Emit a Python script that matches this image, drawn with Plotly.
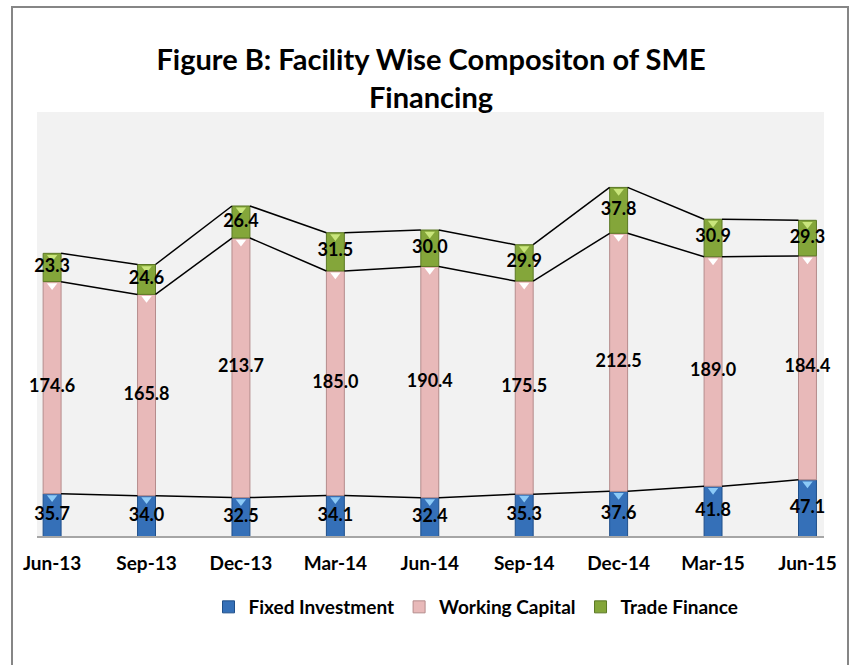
import plotly.graph_objects as go

categories = ["Jun-13", "Sep-13", "Dec-13", "Mar-14", "Jun-14", "Sep-14", "Dec-14", "Mar-15", "Jun-15"]
fixed_investment = [35.7, 34.0, 32.5, 34.1, 32.4, 35.3, 37.6, 41.8, 47.1]
working_capital = [174.6, 165.8, 213.7, 185.0, 190.4, 175.5, 212.5, 189.0, 184.4]
trade_finance = [23.3, 24.6, 26.4, 31.5, 30.0, 29.9, 37.8, 30.9, 29.3]

series = [
    ("Fixed Investment", fixed_investment, "#3570b8", "#1f4f8a", "#8ccaf7"),
    ("Working Capital", working_capital, "#e8b9b9", "#b58c8c", "#ffffff"),
    ("Trade Finance", trade_finance, "#84a63a", "#5b7824", "#c9e57c"),
]

FONT = "Lato"
W = 0.19
xs = list(range(len(categories)))

fig = go.Figure()

base = [0.0] * len(categories)
tops = []
label_traces = []
for name, vals, col, lcol, tcol in series:
    fig.add_trace(go.Bar(
        x=xs, y=vals, base=base, name=name, width=W,
        marker=dict(color=col, line=dict(color=lcol, width=1)),
        hoverinfo="skip",
    ))
    top = [b + v for b, v in zip(base, vals)]
    # bevel highlight triangle at the top of each segment
    fig.add_trace(go.Scatter(
        x=xs, y=[t - 3.2 for t in top], mode="markers",
        marker=dict(symbol="triangle-down", size=9, color=tcol, line=dict(width=0)),
        showlegend=False, hoverinfo="skip", cliponaxis=False,
    ))
    mids = [b + v / 2 for b, v in zip(base, vals)]
    label_traces.append(go.Scatter(
        x=xs, y=mids, mode="text", text=[f"{v:.1f}" for v in vals],
        textfont=dict(family=FONT, size=18, color="black", weight="bold"),
        showlegend=False, hoverinfo="skip", cliponaxis=False,
    ))
    base = top
    tops.append(list(top))

# series lines connecting segment tops
for top in tops:
    lx, ly = [], []
    for i in range(len(categories) - 1):
        lx += [xs[i] + W / 2, xs[i + 1] - W / 2, None]
        ly += [top[i], top[i + 1], None]
    fig.add_trace(go.Scatter(
        x=lx, y=ly, mode="lines", line=dict(color="black", width=1.5),
        showlegend=False, hoverinfo="skip",
    ))

for t in label_traces:
    fig.add_trace(t)

L, R, T, B = 37, 29, 112, 128
pw, ph = 853 - L - R, 665 - T - B

fig.update_layout(
    width=853, height=665,
    margin=dict(l=L, r=R, t=T, b=B),
    paper_bgcolor="white", plot_bgcolor="#f2f2f2",
    barmode="overlay",
    title=dict(
        text="<b>Figure B: Facility Wise Compositon of SME<br>Financing</b>",
        x=431 / 853, xanchor="center", y=1 - 70 / 665, yanchor="middle",
        font=dict(family=FONT, size=29, color="black"),
    ),
    legend=dict(
        orientation="h", x=(476 - L) / pw, xanchor="center",
        y=-(607 - 537) / ph, yanchor="middle",
        font=dict(family=FONT, size=19, color="black", weight="bold"),
        itemwidth=30, bgcolor="rgba(0,0,0,0)",
    ),
    showlegend=True,
    xaxis=dict(
        tickmode="array", tickvals=xs, ticktext=categories,
        range=[-0.16, 8.175], showgrid=False, zeroline=False,
        showline=False, ticks="", ticklabelstandoff=13,
        tickfont=dict(family=FONT, size=19, color="black", weight="bold"),
    ),
    yaxis=dict(
        range=[0, 350], showgrid=False, zeroline=False, showticklabels=False,
        showline=False, ticks="",
    ),
    shapes=[
        dict(type="line", xref="paper", yref="paper", x0=0, x1=1, y0=0, y1=0,
             line=dict(color="#a6a6a6", width=2)),
        dict(type="rect", xref="paper", yref="paper",
             x0=(12 - L) / pw, x1=(848 - L) / pw,
             y0=(537 - 680) / ph, y1=(537 - 7) / ph,
             line=dict(color="#868686", width=2), fillcolor="rgba(0,0,0,0)",
             layer="below"),
    ],
)

fig.write_html("out.html", config={"displayModeBar": False})

# remove the default page margin so the figure sits at the window origin
with open("out.html", "r", encoding="utf-8") as f:
    html = f.read()
html = html.replace("<head>", "<head><style>html,body{margin:0;padding:0;overflow:hidden;}</style>", 1)
with open("out.html", "w", encoding="utf-8") as f:
    f.write(html)
